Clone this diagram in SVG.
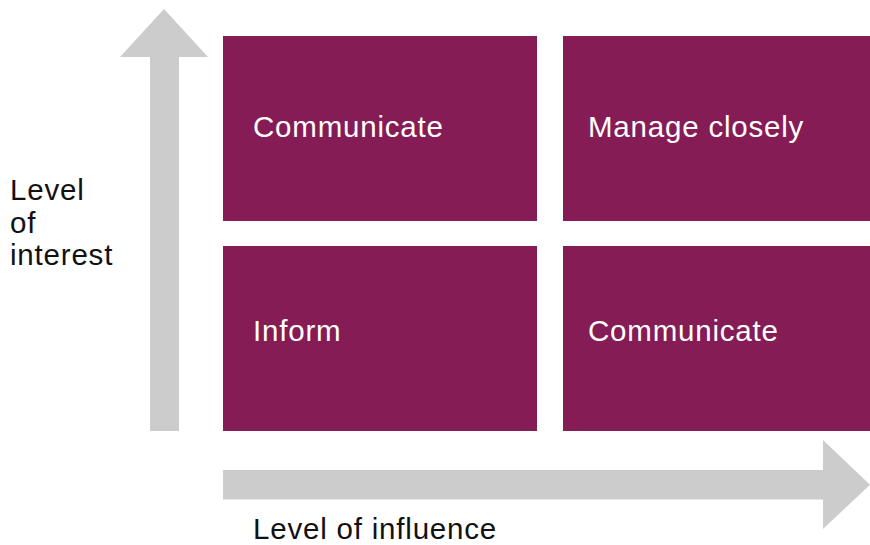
<svg xmlns="http://www.w3.org/2000/svg" width="870" height="545" viewBox="0 0 870 545">
  <style>
    .box { fill: #851c55; }
    .axis { fill: #cccccc; }
    .t { font-family: "Liberation Sans", Arial, sans-serif; font-size: 29.5px; letter-spacing: 0.8px; }
    .w { fill: #ffffff; }
    .k { fill: #111111; }
  </style>
  <rect width="870" height="545" fill="#ffffff"/>
  <g id="connectors">
    <polygon class="axis" points="164,9 208,57 179,57 179,431 150,431 150,57 120,57"/>
    <polygon class="axis" points="223,470 823,470 823,440 870,484.7 823,529 823,499.5 223,499.5"/>
  </g>
  <g id="node-communicate-top">
    <rect class="box" x="223" y="36" width="314" height="185"/>
    <text class="t w" x="253" y="137">Communicate</text>
  </g>
  <g id="node-manage-closely">
    <rect class="box" x="563" y="36" width="307" height="185"/>
    <text class="t w" x="588" y="137">Manage closely</text>
  </g>
  <g id="node-inform">
    <rect class="box" x="223" y="246" width="314" height="185"/>
    <text class="t w" x="253" y="341">Inform</text>
  </g>
  <g id="node-communicate-bottom">
    <rect class="box" x="563" y="246" width="307" height="185"/>
    <text class="t w" x="588" y="341">Communicate</text>
  </g>
  <g id="label-interest">
    <text class="t k" x="10" y="200">Level</text>
    <text class="t k" x="10" y="233">of</text>
    <text class="t k" x="10" y="265">interest</text>
  </g>
  <g id="label-influence">
    <text class="t k" x="253" y="539">Level of influence</text>
  </g>
</svg>
